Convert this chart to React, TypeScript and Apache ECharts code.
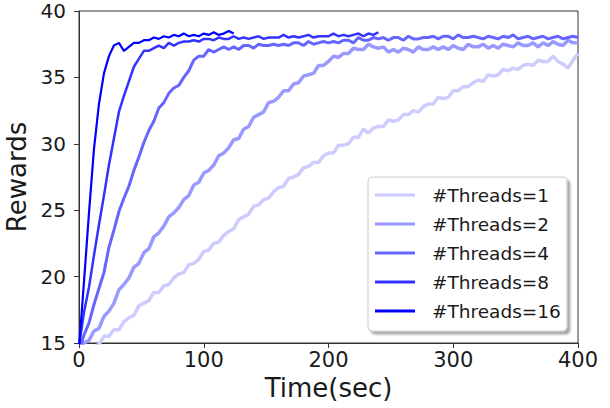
import React, { useEffect, useRef } from "react";
import * as echarts from "echarts";

const TIME = [
  0, 4, 8, 12, 16, 20, 24, 28, 32, 36, 40, 44, 48, 52, 56, 60, 64, 68, 72, 76,
  80, 84, 88, 92, 96, 100, 104, 108, 112, 116, 120, 124, 128, 132, 136, 140, 144, 148, 152, 156,
  160, 164, 168, 172, 176, 180, 184, 188, 192, 196, 200, 204, 208, 212, 216, 220, 224, 228, 232, 236,
  240, 244, 248, 252, 256, 260, 264, 268, 272, 276, 280, 284, 288, 292, 296, 300, 304, 308, 312, 316,
  320, 324, 328, 332, 336, 340, 344, 348, 352, 356, 360, 364, 368, 372, 376, 380, 384, 388, 392, 396, 400,
];

const THREADS_1 = [
  13.9, 14.0, 14.6, 14.7, 14.9, 15.5, 15.5, 16.0, 16.0, 16.6,
  16.9, 17.1, 17.8, 18.0, 18.2, 18.8, 18.8, 19.3, 19.4, 19.9,
  20.2, 20.3, 20.9, 21.0, 21.3, 21.9, 22.0, 22.5, 22.6, 23.1,
  23.4, 23.6, 24.3, 24.5, 24.7, 25.3, 25.4, 25.8, 25.9, 26.4,
  26.7, 26.8, 27.4, 27.5, 27.7, 28.2, 28.3, 28.6, 28.6, 29.1,
  29.3, 29.3, 29.9, 29.9, 30.0, 30.5, 30.5, 31.1, 30.8, 31.2,
  31.3, 31.3, 31.8, 31.7, 31.8, 32.2, 32.2, 32.5, 32.4, 32.8,
  33.0, 33.0, 33.5, 33.4, 33.5, 34.0, 34.0, 34.3, 34.3, 34.6,
  34.8, 34.7, 35.2, 35.1, 35.2, 35.6, 35.5, 35.7, 35.6, 35.9,
  36.0, 35.9, 36.3, 36.2, 36.2, 36.6, 36.2, 36.0, 35.7, 36.3, 36.8,
];

const THREADS_2 = [
  14.3, 15.0, 15.2, 15.9, 16.1, 17.0, 17.4, 18.0, 19.0, 19.4,
  19.9, 20.7, 21.0, 21.8, 22.1, 23.0, 23.3, 23.8, 24.5, 24.8,
  25.2, 25.8, 26.1, 26.9, 27.1, 27.8, 28.0, 28.4, 29.1, 29.3,
  29.7, 30.3, 30.4, 31.1, 31.3, 32.0, 32.2, 32.4, 33.1, 33.2,
  33.5, 34.0, 34.0, 34.5, 34.6, 35.1, 35.2, 35.3, 35.9, 35.9,
  36.2, 36.6, 36.5, 36.8, 36.8, 37.2, 37.1, 37.1, 37.5, 37.3,
  37.2, 37.3, 36.9, 37.1, 36.9, 37.2, 37.1, 36.9, 37.3, 37.1,
  37.1, 37.3, 37.1, 37.3, 37.1, 37.4, 37.2, 37.1, 37.5, 37.3,
  37.3, 37.5, 37.2, 37.4, 37.2, 37.5, 37.4, 37.3, 37.6, 37.4,
  37.4, 37.6, 37.3, 37.6, 37.4, 37.7, 37.5, 37.4, 37.8, 37.6, 37.6,
];

const THREADS_4 = [
  14.4, 15.6, 16.5, 17.9, 19.1, 20.3, 22.2, 23.5, 24.9, 25.9,
  26.8, 28.0, 29.0, 30.1, 31.0, 31.7, 32.7, 33.1, 33.8, 34.2,
  34.4, 35.0, 35.5, 36.3, 36.6, 36.6, 37.1, 36.9, 37.1, 37.3,
  37.1, 37.3, 37.1, 37.4, 37.4, 37.2, 37.5, 37.4, 37.4, 37.5,
  37.4, 37.5, 37.4, 37.6, 37.6, 37.4, 37.7, 37.5, 37.6, 37.7,
  37.6, 37.7, 37.6, 37.8, 37.8, 37.6, 38.0, 37.8, 37.8, 38.0,
  37.9, 38.0, 37.8, 38.0, 38.0, 37.8, 38.1, 37.9, 37.9, 38.0,
  38.0, 38.1, 37.9, 38.1, 38.1, 37.9, 38.2, 38.0, 38.0, 38.1,
  38.0, 37.9, 38.1, 38.0, 37.9, 38.1, 38.0, 38.2, 37.9, 38.0,
  38.1, 37.9, 38.0, 38.1, 37.9, 38.0, 38.1, 37.9, 38.0, 38.1, 38.0,
];

const THREADS_8 = [
  14.8, 17.3, 19.2, 21.6, 23.9, 26.1, 28.4, 30.4, 32.4, 33.6,
  34.7, 35.8, 36.4, 37.0, 37.0, 37.2, 37.4, 37.2, 37.6, 37.4,
  37.6, 37.7, 37.7, 37.8, 37.7, 37.9, 37.9, 37.8, 38.0, 37.9,
  37.9, 38.1, 37.9, 38.0, 37.9, 38.0, 38.1, 37.9, 38.0, 38.0,
  38.0, 38.2, 38.0, 38.1, 38.0, 38.1, 38.2, 38.0, 38.1, 38.1,
  38.1, 38.3, 38.1, 38.2, 38.1, 38.2, 38.3, 38.1, 38.3, 38.2, 38.4,
];

const THREADS_16 = [
  14.6, 19.6, 24.8, 29.6, 33.0, 35.3, 36.6, 37.4, 37.6, 37.0,
  37.3, 37.6, 37.6, 37.8, 37.8, 38.0, 37.9, 38.1, 38.0, 38.2,
  38.1, 38.3, 38.1, 38.2, 38.1, 38.3, 38.2, 38.4, 38.2, 38.3,
  38.5, 38.3,
];

const SERIES_NAMES = ["#Threads=1", "#Threads=2", "#Threads=4", "#Threads=8", "#Threads=16"];
const SERIES_VALUES = [THREADS_1, THREADS_2, THREADS_4, THREADS_8, THREADS_16];
const SERIES_COLORS = ["#ccccff", "#9999ff", "#6666ff", "#3333ff", "#0000ff"];
const SERIES_WIDTHS = [3.5, 3.5, 3, 2.5, 2.2];

const X_MIN = 0;
const X_MAX = 400;
const X_STEP = 100;
const Y_MIN = 15;
const Y_MAX = 40;
const Y_STEP = 5;

const FONT = "DejaVu Sans";

export default function App() {
  const ref = useRef<HTMLDivElement>(null);

  useEffect(() => {
    if (!ref.current) return;
    const chart = echarts.init(ref.current, undefined, { renderer: "svg" });
    const series = SERIES_NAMES.map((name, k) => ({
      name,
      type: "line",
      symbol: "none",
      showSymbol: false,
      clip: true,
      color: SERIES_COLORS[k],
      lineStyle: { color: SERIES_COLORS[k], width: SERIES_WIDTHS[k] },
      data: SERIES_VALUES[k].map((v, i) => [TIME[i], v]),
    }));
    chart.setOption({
      animation: false,
      backgroundColor: "#ffffff",
      grid: {
        left: 79,
        top: 11,
        width: 499,
        height: 332,
        containLabel: false,
        outerBoundsMode: "none",
        show: true,
        borderColor: "#333333",
        borderWidth: 1,
        backgroundColor: "transparent",
      },
      xAxis: {
        type: "value",
        min: X_MIN,
        max: X_MAX,
        interval: X_STEP,
        name: "Time(sec)",
        nameLocation: "middle",
        nameGap: 30,
        nameTextStyle: { fontFamily: FONT, fontSize: 26, color: "#1a1a1a" },
        axisLine: { show: true, lineStyle: { color: "#333333", width: 1 } },
        axisTick: { show: true, inside: false, length: 5, lineStyle: { color: "#333333" } },
        axisLabel: { margin: 6, fontFamily: FONT, fontSize: 21, color: "#1a1a1a" },
        splitLine: { show: false },
      },
      yAxis: {
        type: "value",
        min: Y_MIN,
        max: Y_MAX,
        interval: Y_STEP,
        name: "Rewards",
        nameLocation: "middle",
        nameGap: 46,
        nameTextStyle: { fontFamily: FONT, fontSize: 26, color: "#1a1a1a" },
        axisLine: { show: true, lineStyle: { color: "#333333", width: 1 } },
        axisTick: { show: true, inside: false, length: 5, lineStyle: { color: "#333333" } },
        axisLabel: {
          margin: 13,
          fontFamily: FONT,
          fontSize: 20,
          lineHeight: 16,
          color: "#1a1a1a",
        },
        splitLine: { show: false },
      },
      legend: {
        orient: "vertical",
        left: 368,
        top: 177,
        icon: "rect",
        itemWidth: 40,
        itemHeight: 3,
        itemGap: 9,
        padding: [8, 6, 10, 7],
        backgroundColor: "#ffffff",
        borderColor: "#cccccc",
        borderWidth: 1,
        borderRadius: 4,
        shadowColor: "rgba(0,0,0,0.35)",
        shadowOffsetX: 3,
        shadowOffsetY: 3,
        shadowBlur: 2,
        textStyle: {
          fontFamily: FONT,
          fontSize: 18.5,
          lineHeight: 20,
          color: "#1a1a1a",
          padding: [0, 0, 0, 12],
        },
        data: SERIES_NAMES,
      },
      series,
    });
    return () => chart.dispose();
  }, []);

  return (
    <div
      ref={ref}
      style={{ position: "fixed", left: 0, top: 0, width: 610, height: 408 }}
    />
  );
}
